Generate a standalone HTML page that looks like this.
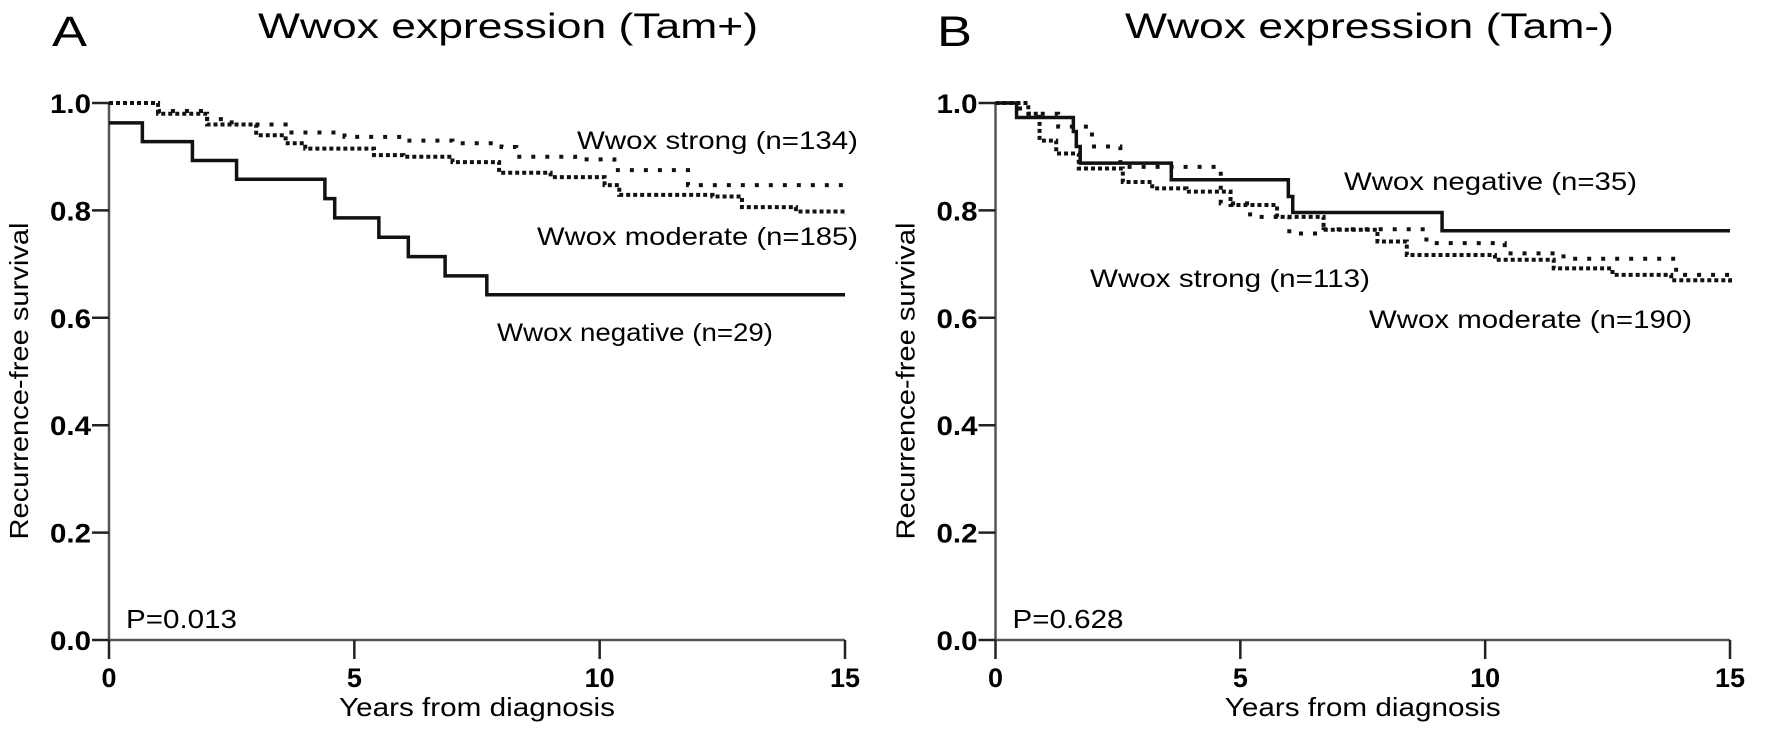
<!DOCTYPE html>
<html><head><meta charset="utf-8"><style>
html,body{margin:0;padding:0;background:#fff;}
svg{display:block;font-family:"Liberation Sans",Arial,sans-serif;}
</style></head><body>
<svg id="fig" width="1772" height="753" viewBox="0 0 1772 753"></svg>
<script>
// Panel A (Tam+) data
const aNegT = [0, 0.68, 1.7, 2.6, 4.4, 4.6, 5.5, 6.1, 6.85, 7.7];
const aNegS = [0.963, 0.928, 0.893, 0.858, 0.822, 0.786, 0.75, 0.714, 0.678, 0.643];
const aStrT = [0, 1, 2, 2.5, 3.6, 4.8, 6, 7, 8, 8.3, 9.5, 10.3, 11.8, 15];
const aStrS = [1.0, 0.985, 0.97, 0.96, 0.945, 0.937, 0.93, 0.925, 0.918, 0.9, 0.895, 0.875, 0.847, 0.836];
const aModT = [0, 1, 2, 3, 3.6, 4, 5.4, 6, 7, 7.95, 9, 10.1, 10.4, 12.3, 12.9, 14, 15];
const aModS = [1.0, 0.98, 0.96, 0.94, 0.925, 0.915, 0.903, 0.9, 0.89, 0.87, 0.862, 0.847, 0.829, 0.826, 0.806, 0.798, 0.793];
// Panel B (Tam-) data
const bNegT = [0, 0.43, 1.59, 1.65, 1.73, 3.59, 5.98, 6.07, 9.12];
const bNegS = [1.0, 0.973, 0.947, 0.919, 0.888, 0.857, 0.826, 0.796, 0.762];
const bStrT = [0, 0.5, 1.28, 1.97, 2.55, 4.6, 5.2, 6.0, 6.7, 8.8, 10.4, 11.6, 13.9, 15];
const bStrS = [1.0, 0.98, 0.956, 0.919, 0.881, 0.813, 0.788, 0.757, 0.765, 0.739, 0.72, 0.71, 0.68, 0.665];
const bModT = [0, 0.67, 0.9, 1.24, 1.7, 2.6, 3.2, 3.9, 4.8, 5.75, 6.7, 7.8, 8.4, 10.2, 11.4, 12.6, 13.8, 15];
const bModS = [1.0, 0.98, 0.93, 0.906, 0.878, 0.853, 0.841, 0.835, 0.81, 0.788, 0.764, 0.742, 0.717, 0.708, 0.692, 0.68, 0.67, 0.661];
const xTicks = [0, 5, 10, 15];
const yTicks = [0, 0.2, 0.4, 0.6, 0.8, 1.0];
const yTickLabels = ["0.0", "0.2", "0.4", "0.6", "0.8", "1.0"];

const NS = "http://www.w3.org/2000/svg";
const svg = document.getElementById("fig");
function el(tag, attrs, parent) {
  const e = document.createElementNS(NS, tag);
  for (const k in attrs) e.setAttribute(k, attrs[k]);
  (parent || svg).appendChild(e);
  return e;
}
function txt(str, attrs, parent) { const t = el("text", attrs, parent); t.textContent = str; return t; }

function panel(cfg) {
  const g = el("g", {});
  
  
  const x0 = cfg.x0, x1 = cfg.x1, yTop = 103, yBot = 640;
  const sx = v => x0 + (x1 - x0) * v / 15;
  const sy = v => yBot - (yBot - yTop) * v;

  const letter = txt(cfg.letter, {x: cfg.letterX, y: 46, "font-size": 43, textLength: 35, lengthAdjust: "spacingAndGlyphs"}, g);
  
  
  const title = txt(cfg.title, {x: cfg.titleX, y: 38, "font-size": 35, textLength: cfg.titleW, lengthAdjust: "spacingAndGlyphs"}, g);
  
  

  // axes
  const ax = el("path", {d: `M${x0} ${yTop} V${yBot} H${x1}`, stroke: "#555", "stroke-width": 2.5, fill: "none"}, g);
  
  
  yTicks.forEach((v, i) => {
    const y = sy(v);
    const t = el("line", {x1: x0 - 17, x2: x0, y1: y, y2: y, stroke: "#222", "stroke-width": 2.5}, g);
    
    
    const l = txt(yTickLabels[i], {x: x0 - 18, y: y + 10, "font-size": 27, "font-weight": "bold", "text-anchor": "end", textLength: 41, lengthAdjust: "spacingAndGlyphs"}, g);
    
    
  });
  xTicks.forEach(v => {
    const x = sx(v);
    const t = el("line", {x1: x, x2: x, y1: yBot, y2: yBot + 19, stroke: "#222", "stroke-width": 2.5}, g);
    
    
    const l = txt(String(v), {x: x, y: 687, "font-size": 27, "font-weight": "bold", "text-anchor": "middle", textLength: v >= 10 ? 30 : 15, lengthAdjust: "spacingAndGlyphs"}, g);
    
    
  });
  const xt = txt("Years from diagnosis", {x: (x0 + x1) / 2, y: 716, "font-size": 26, "text-anchor": "middle", textLength: 276, lengthAdjust: "spacingAndGlyphs"}, g);
  
  
  const cx = x0 - 81, cy = 381;
  const yt = txt("Recurrence-free survival", {x: cx, y: cy, "font-size": 26, "text-anchor": "middle", transform: `rotate(-90 ${cx} ${cy})`, textLength: 317, lengthAdjust: "spacingAndGlyphs"}, g);
  
  

  function step(T, S, style, name) {
    let d = `M${sx(T[0])} ${sy(S[0])}`;
    for (let i = 1; i < T.length; i++) d += ` H${sx(T[i])} V${sy(S[i])}`;
    d += ` H${sx(15)}`;
    const p = el("path", Object.assign({d: d, fill: "none", stroke: "#111"}, style), g);
    
    
  }
  step(cfg.strT, cfg.strS, {"stroke-width": 4, "stroke-dasharray": "4 10"}, 'curve-wwox-strong');
  step(cfg.modT, cfg.modS, {"stroke-width": 4, "stroke-dasharray": "4 3"}, 'curve-wwox-moderate');
  step(cfg.negT, cfg.negS, {"stroke-width": 3.5}, 'curve-wwox-negative');

  cfg.labels.forEach(L => {
    const t = txt(L[0], {x: L[1], y: L[2], "font-size": 25, textLength: L[3], lengthAdjust: "spacingAndGlyphs"}, g);
    
    
  });
  const p = txt(cfg.p, {x: x0 + 17, y: 628, "font-size": 26, textLength: 111, lengthAdjust: "spacingAndGlyphs"}, g);
  
  
}

panel({name: "panel-a", x0: 109, x1: 845, letter: "A", letterX: 52, title: "Wwox expression (Tam+)", titleX: 258, titleW: 500,
  negT: aNegT, negS: aNegS, strT: aStrT, strS: aStrS, modT: aModT, modS: aModS, p: "P=0.013",
  labels: [["Wwox strong (n=134)", 577, 149, 281, "label-wwox-strong"],
           ["Wwox moderate (n=185)", 537, 245, 321, "label-wwox-moderate"],
           ["Wwox negative (n=29)", 497, 341, 276, "label-wwox-negative"]]});
panel({name: "panel-b", x0: 995.5, x1: 1730, letter: "B", letterX: 937, title: "Wwox expression (Tam-)", titleX: 1125, titleW: 489,
  negT: bNegT, negS: bNegS, strT: bStrT, strS: bStrS, modT: bModT, modS: bModS, p: "P=0.628",
  labels: [["Wwox negative (n=35)", 1344, 190, 293, "label-wwox-negative"],
           ["Wwox strong (n=113)", 1090, 287, 280, "label-wwox-strong"],
           ["Wwox moderate (n=190)", 1369, 328, 323, "label-wwox-moderate"]]});
</script>
</body></html>
